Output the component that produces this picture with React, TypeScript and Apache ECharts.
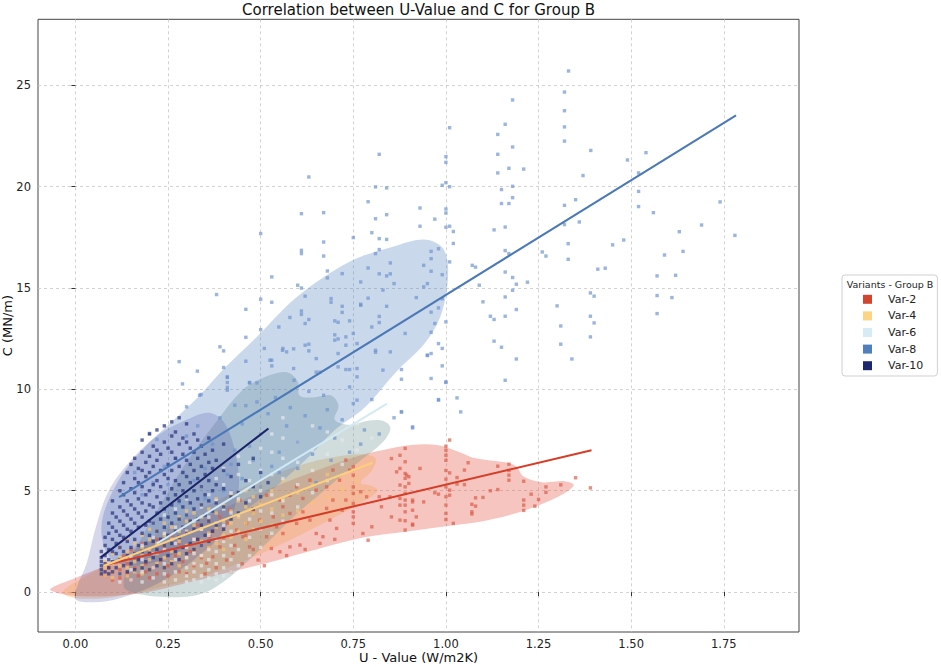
import React, { useEffect, useRef } from "react";
import * as echarts from "echarts";

const FONT = "DejaVu Sans";

const variantNames = ["Var-2", "Var-4", "Var-6", "Var-8", "Var-10"];
const legendColors = ["#d4452f", "#fdd384", "#d6ebf4", "#4f7fbf", "#1d2770"];
const lineColors = ["#d63c26", "#fdcf7c", "#d2eaf4", "#4a79b6", "#1a2367"];
const pointColors = ["rgba(217,90,70,0.85)", "rgba(248,196,112,0.9)", "rgba(228,232,235,0.9)", "rgba(108,146,204,0.85)", "rgba(38,48,122,0.88)"];
const blobColors = ["rgba(232,95,80,0.36)", "rgba(240,165,80,0.33)", "rgba(110,150,145,0.32)", "rgba(78,125,192,0.30)", "rgba(70,74,165,0.22)"];

// Regression lines (start, end)
const var2Fit = [[0.077, 1.32], [1.393, 7.0]];
const var4Fit = [[0.077, 1.3], [0.802, 6.38]];
const var6Fit = [[0.22, 2.4], [0.841, 9.3]];
const var8Fit = [[0.118, 4.68], [1.783, 23.52]];
const var10Fit = [[0.0685, 1.71], [0.521, 8.07]];

// Density regions (outline vertices in data units)
const var2Blob = [[-0.068, 0.15], [-0.04, -0.08], [0.0, -0.18], [0.08, -0.2], [0.18, -0.05], [0.3, 0.45], [0.42, 1.0], [0.52, 1.45], [0.65, 2.1], [0.78, 2.7], [0.9, 3.0], [1.0, 3.25], [1.1, 3.5], [1.2, 3.95], [1.28, 4.5], [1.33, 5.0], [1.345, 5.3], [1.32, 5.47], [1.26, 5.42], [1.21, 5.7], [1.19, 6.2], [1.16, 6.4], [1.08, 6.6], [1.03, 6.95], [0.98, 7.25], [0.9, 7.25], [0.84, 7.05], [0.78, 6.8], [0.68, 6.2], [0.55, 5.3], [0.42, 4.3], [0.3, 3.3], [0.18, 2.3], [0.08, 1.3], [0.0, 0.7]];
const var4Blob = [[-0.035, 0.02], [0.0, -0.3], [0.1, -0.25], [0.22, 0.2], [0.34, 0.75], [0.45, 1.5], [0.56, 2.4], [0.68, 3.5], [0.78, 4.5], [0.815, 5.0], [0.8, 5.25], [0.77, 5.4], [0.8, 6.0], [0.81, 6.6], [0.77, 6.8], [0.68, 6.6], [0.58, 6.1], [0.47, 5.3], [0.36, 4.3], [0.25, 3.2], [0.15, 2.1], [0.06, 1.1]];
const var6Blob = [[0.13, 0.3], [0.17, -0.1], [0.26, -0.25], [0.33, -0.15], [0.38, 0.26], [0.44, 1.1], [0.51, 2.3], [0.6, 3.9], [0.69, 5.3], [0.77, 6.5], [0.83, 7.4], [0.85, 8.1], [0.83, 8.45], [0.79, 8.45], [0.74, 8.25], [0.7, 8.5], [0.71, 9.2], [0.69, 9.7], [0.64, 9.6], [0.605, 9.7], [0.6, 10.4], [0.57, 10.85], [0.51, 10.6], [0.45, 9.95], [0.38, 8.4], [0.3, 6.4], [0.22, 4.0], [0.16, 2.0]];
const var8Blob = [[0.07, 3.2], [0.1, 1.6], [0.2, 1.4], [0.35, 2.8], [0.5, 4.6], [0.62, 6.5], [0.7, 8.0], [0.78, 9.1], [0.87, 10.95], [0.93, 12.0], [0.97, 13.0], [0.995, 14.2], [1.006, 16.0], [0.99, 17.0], [0.94, 17.4], [0.85, 17.0], [0.74, 16.3], [0.6, 14.6], [0.49, 12.6], [0.4, 11.0], [0.33, 9.6], [0.26, 8.4], [0.18, 7.0], [0.11, 5.3]];
const var10Blob = [[0.0, -0.35], [0.05, -0.5], [0.12, -0.3], [0.22, 0.4], [0.32, 1.6], [0.4, 3.0], [0.44, 5.0], [0.43, 7.0], [0.4, 8.4], [0.36, 8.85], [0.3, 8.5], [0.22, 7.7], [0.15, 6.5], [0.09, 5.0], [0.055, 3.2], [0.03, 1.4], [0.005, 0.3]];

// Scatter points
const var2Points = [
  [1.01, 7.5], [1.0, 7.2], [1.0, 7.0], [1.0, 6.75], [1.0, 6.5], [1.0, 6.0], [1.0, 5.57], [1.0, 5.19], [1.0, 4.7], [1.0, 4.29], [1.0, 3.88], [1.0, 3.58], [1.01, 5.88], [1.01, 5.03], [1.01, 4.78], [1.03, 5.65], [1.03, 5.33], [1.02, 3.39], [1.05, 6.02], [1.05, 5.3], [1.06, 6.38], [1.07, 4.33], [1.07, 3.96], [1.07, 3.85], [1.08, 4.65], [1.08, 4.24], [1.1, 4.67], [1.12, 5.0], [1.14, 5.06], [1.14, 6.21], [1.17, 6.31], [1.17, 6.0], [1.17, 5.77], [1.17, 5.52], [1.21, 5.47], [1.21, 4.54], [1.21, 4.29], [1.21, 4.03], [1.23, 4.83], [1.24, 4.24], [1.25, 4.57], [1.27, 5.19], [1.27, 4.92], [1.31, 5.29], [1.35, 5.64], [1.39, 5.14], [0.97, 4.9], [0.98, 4.83], [0.93, 6.1], [0.94, 4.45], [0.91, 4.45], [0.91, 4.04], [0.91, 3.35],
  [0.89, 7.09], [0.89, 6.43], [0.89, 5.85], [0.89, 5.61], [0.89, 5.19], [0.89, 4.87], [0.89, 4.54], [0.89, 4.29], [0.89, 3.96], [0.89, 3.52], [0.89, 3.06], [0.9, 5.69], [0.876, 6.75], [0.876, 6.1], [0.876, 5.28], [0.876, 4.62], [0.876, 4.29], [0.876, 3.55],
  [0.853, 6.59], [0.867, 5.93], [0.894, 5.77], [0.9, 5.36], [0.91, 4.54], [0.92, 3.71], [0.91, 3.3], [0.849, 4.7], [0.826, 4.21], [0.853, 3.71], [0.82, 4.7], [0.8, 3.22], [0.776, 2.89], [0.79, 2.56], [0.75, 6.18], [0.75, 5.77], [0.75, 5.19], [0.75, 4.87], [0.75, 4.37], [0.75, 3.96], [0.75, 3.71], [0.75, 3.39], [0.73, 4.54], [0.72, 4.04], [0.77, 4.95], [0.786, 4.7], [0.695, 4.54], [0.678, 4.13], [0.687, 3.55], [0.668, 2.73], [0.705, 3.14], [0.65, 2.89], [0.633, 3.55], [0.614, 3.96], [0.597, 3.39], [0.606, 2.32], [0.579, 2.23], [0.552, 1.99], [0.529, 2.15], [0.56, 2.89], [0.543, 3.22], [0.516, 2.73], [0.493, 1.58], [0.47, 2.23], [0.452, 2.73], [0.435, 3.06], [0.425, 1.91], [0.408, 1.58], [0.39, 2.23], [0.371, 1.74], [0.363, 2.73], [0.354, 1.42], [0.579, 3.88], [0.56, 4.21], [0.534, 3.71], [0.497, 3.55], [0.48, 3.96], [0.462, 3.39], [0.614, 4.62], [0.65, 5.03], [0.633, 5.52], [0.678, 5.19], [0.713, 5.52], [0.74, 6.02], [0.73, 6.51], [0.695, 6.02], [0.597, 5.19], [0.579, 4.78], [0.552, 4.54], [0.516, 4.78], [0.444, 4.54], [0.417, 4.04], [0.39, 3.71],
  [0.08, 0.8], [0.09, 1.2], [0.1, 0.6], [0.1, 1.0], [0.11, 1.5], [0.12, 0.7], [0.12, 1.1], [0.13, 1.8], [0.14, 0.9], [0.14, 1.4], [0.15, 0.6], [0.15, 2.1], [0.16, 1.2], [0.17, 0.8], [0.17, 1.7], [0.18, 2.4], [0.19, 1.0], [0.19, 1.4], [0.2, 0.7], [0.2, 1.9], [0.21, 1.2], [0.22, 2.6], [0.22, 0.9], [0.23, 1.6], [0.24, 2.2], [0.25, 0.8], [0.25, 1.3], [0.26, 2.8], [0.27, 1.8], [0.28, 1.0], [0.28, 2.4], [0.29, 1.5], [0.3, 3.0], [0.3, 0.9], [0.31, 2.0], [0.32, 1.3], [0.33, 2.6], [0.33, 3.3], [0.34, 1.7], [0.35, 0.9], [0.36, 2.2], [0.37, 3.0], [0.38, 1.2], [0.4, 2.6], [0.41, 3.4], [0.42, 1.0], [0.43, 2.3], [0.45, 1.4], [0.46, 2.8], [0.48, 2.1], [0.5, 3.1], [0.51, 1.3], [0.57, 1.8], [0.62, 2.1], [0.66, 2.4], [0.7, 2.6]
];

const var4Columns = [
  [0.08, [0.8, 1.2, 1.5]], [0.1, [0.7, 1.0, 1.4, 1.9]], [0.12, [0.9, 1.3, 1.7, 2.2]], [0.14, [0.8, 1.2, 1.6, 2.0, 2.6]],
  [0.16, [1.0, 1.5, 1.9, 2.4]], [0.18, [0.9, 1.3, 1.8, 2.2, 2.8]], [0.2, [1.1, 1.6, 2.1, 2.6, 3.1]], [0.22, [1.4, 1.9, 2.4, 3.0]],
  [0.24, [1.2, 1.7, 2.3, 2.8, 3.4]], [0.26, [1.5, 2.0, 2.6, 3.2]], [0.28, [1.3, 1.9, 2.5, 3.0, 3.7]], [0.3, [1.7, 2.3, 2.9, 3.5, 4.0]],
  [0.32, [2.0, 2.6, 3.3, 3.9]], [0.34, [1.8, 2.5, 3.1, 3.7, 4.3]], [0.36, [2.2, 2.9, 3.5, 4.1]], [0.38, [2.4, 3.2, 3.9, 4.6]],
  [0.4, [2.1, 2.8, 3.5, 4.3]], [0.42, [2.7, 3.4, 4.0, 4.8]], [0.44, [3.0, 3.7, 4.5]], [0.46, [2.6, 3.4, 4.2, 5.0]],
  [0.48, [3.1, 3.9, 4.7]], [0.5, [3.5, 4.3, 5.2]], [0.53, [3.3, 4.1, 5.0]], [0.56, [3.8, 4.6, 5.5]], [0.6, [4.0, 4.9]],
  [0.64, [4.4, 5.3]], [0.68, [4.7, 5.8]], [0.72, [5.1]], [0.76, [5.5]]
];

const var6Columns = [
  [0.12, [0.5, 0.9]], [0.15, [0.6, 1.1, 1.7]], [0.18, [0.5, 1.0, 1.6, 2.3]], [0.21, [0.7, 1.2, 1.9, 2.7, 3.4]],
  [0.24, [0.5, 0.9, 1.4, 2.1, 2.9, 3.8]], [0.27, [0.6, 1.0, 1.6, 2.4, 3.2, 4.1]], [0.3, [0.5, 0.8, 1.2, 1.7, 2.2, 3.0, 3.8, 4.6]],
  [0.32, [0.6, 1.0, 1.4, 1.9, 2.6, 3.5]], [0.34, [0.5, 0.8, 1.3, 1.8, 2.3, 3.1, 4.2, 5.2]], [0.36, [0.7, 1.1, 1.6, 2.1, 2.8, 3.7, 4.8]],
  [0.38, [0.6, 0.9, 1.4, 2.0, 2.6, 3.4, 4.5, 5.6]], [0.4, [0.8, 1.2, 1.8, 2.5, 3.3, 4.1, 5.3, 6.1]], [0.42, [1.0, 1.6, 2.3, 3.0, 3.9, 4.9]],
  [0.44, [1.3, 2.1, 2.9, 3.8, 4.6, 5.8, 6.7]], [0.47, [1.8, 2.7, 3.6, 4.5, 5.5, 6.4]], [0.5, [2.2, 3.1, 4.0, 5.0, 6.0, 7.1]],
  [0.53, [2.9, 3.9, 4.8, 5.8, 6.9, 7.8]], [0.56, [3.5, 4.5, 5.6, 6.6, 7.6, 8.6]], [0.6, [4.2, 5.3, 6.4, 7.4]],
  [0.64, [4.9, 6.0, 7.0, 8.2]], [0.68, [5.5, 6.8, 7.9]], [0.72, [6.3, 7.5]], [0.76, [7.0, 8.3]], [0.8, [7.6]]
];

const var8Points = [
  [0.381, 14.68], [0.46, 13.95], [0.5, 17.69], [0.5, 14.45], [0.53, 15.55], [0.53, 14.3], [0.61, 18.67], [0.61, 16.86], [0.61, 16.7], [0.63, 20.48], [0.6, 15.14], [0.61, 15.0], [0.62, 14.6], [0.61, 13.7], [0.67, 18.72], [0.67, 17.27], [0.67, 16.58], [0.68, 15.84], [0.68, 15.5], [0.69, 14.48], [0.69, 14.3], [0.72, 15.71], [0.72, 14.1], [0.72, 13.8], [0.74, 13.38], [0.75, 17.49], [0.77, 14.15], [0.77, 15.3], [0.79, 19.26], [0.8, 17.73], [0.81, 19.99], [0.81, 18.42], [0.81, 16.7], [0.79, 15.99], [0.79, 14.5], [0.82, 21.6], [0.82, 17.44], [0.82, 16.9], [0.82, 15.7], [0.82, 13.3], [0.84, 19.94], [0.84, 18.62], [0.84, 17.4], [0.84, 15.6], [0.84, 14.1], [0.85, 16.24], [0.85, 15.7], [0.86, 15.22], [0.83, 14.9],
  [1.331, 25.71], [1.32, 24.67], [1.32, 23.75], [1.32, 22.95], [1.32, 22.25], [1.391, 21.79], [1.37, 20.55], [1.18, 24.28], [1.16, 23.08], [1.14, 22.58], [1.18, 21.96], [1.14, 21.6], [1.17, 20.91], [1.21, 20.87], [1.14, 20.68], [1.18, 20.02], [1.15, 19.86], [1.18, 19.46], [1.15, 19.17], [1.17, 19.17], [1.16, 18.01], [1.13, 17.87],
  [1.01, 22.91], [1.0, 21.48], [1.0, 21.2], [0.99, 20.07], [1.0, 20.2], [1.01, 20.0], [0.93, 18.95], [0.93, 18.05], [0.97, 18.4], [1.0, 18.9], [1.0, 18.7], [1.0, 18.0], [1.01, 18.05], [1.02, 17.79], [1.02, 17.2], [1.01, 16.29], [0.98, 16.94], [0.96, 16.81], [0.96, 16.45], [0.94, 16.12], [0.96, 15.83], [0.99, 15.66], [0.95, 15.22], [0.94, 15.06], [0.92, 14.53], [0.99, 14.47], [0.98, 14.02], [0.96, 13.81], [1.0, 13.33], [0.97, 13.25], [0.89, 12.76], [0.96, 12.82], [0.98, 12.26], [0.99, 12.02], [0.96, 11.77], [0.95, 11.67],
  [1.071, 16.12], [1.08, 16.03], [1.09, 15.14], [1.1, 14.32], [1.12, 13.61], [1.13, 13.45], [1.13, 12.38], [1.15, 12.08], [1.16, 16.85], [1.17, 16.7], [1.16, 15.79], [1.18, 15.52], [1.19, 15.19], [1.22, 15.29], [1.18, 14.89], [1.16, 14.56], [1.19, 13.94], [1.16, 13.61], [1.19, 11.5], [1.26, 16.78], [1.27, 16.58], [1.32, 19.08], [1.32, 18.13], [1.35, 19.36], [1.36, 18.26], [1.33, 17.19], [1.33, 16.42], [1.3, 14.12], [1.31, 13.13], [1.31, 12.23], [1.34, 11.5], [1.39, 14.76], [1.4, 14.6], [1.39, 13.61], [1.4, 13.28], [1.39, 12.59], [1.41, 15.93], [1.43, 15.98], [1.45, 17.13], [1.48, 17.37], [1.49, 21.32], [1.52, 20.68], [1.54, 21.68], [1.52, 19.77], [1.52, 19.02], [1.56, 18.72], [1.63, 17.78], [1.69, 18.11], [1.74, 19.25], [1.78, 17.6], [1.59, 16.63], [1.64, 16.81], [1.57, 15.6], [1.62, 15.63], [1.57, 14.63], [1.61, 14.53], [1.57, 13.74],
  [0.99, 11.16], [0.96, 10.54], [1.0, 10.34], [0.88, 10.98], [0.88, 10.5], [0.98, 9.5], [1.03, 9.58], [1.04, 8.89], [0.88, 8.89], [0.91, 8.1], [1.16, 10.45],
  [0.28, 11.37], [0.289, 10.27], [0.329, 10.9], [0.339, 9.75], [0.39, 12.1], [0.4, 11.9], [0.4, 11.08], [0.41, 10.59], [0.41, 10.34], [0.41, 10.1], [0.46, 11.39], [0.47, 10.34], [0.49, 10.32], [0.51, 12.02], [0.53, 11.44], [0.53, 11.16], [0.559, 11.93], [0.57, 11.85], [0.589, 12.0], [0.589, 11.03], [0.63, 12.23], [0.63, 11.9], [0.65, 11.52], [0.65, 10.85], [0.66, 10.85], [0.709, 11.77], [0.709, 11.11], [0.73, 12.18], [0.73, 10.98], [0.74, 10.98], [0.76, 12.26], [0.76, 11.03], [0.81, 11.93], [0.81, 11.83], [0.83, 10.95],
  [0.549, 13.08], [0.579, 13.55], [0.61, 13.87], [0.62, 13.25], [0.63, 13.45], [0.7, 13.38], [0.709, 13.31], [0.7, 12.69], [0.709, 12.49], [0.73, 12.59], [0.75, 12.76], [0.77, 14.2], [0.8, 13.08], [0.82, 13.6], [0.46, 12.57], [0.5, 12.95],
  [0.2, 7.83], [0.22, 7.53], [0.3, 9.14], [0.335, 9.71], [0.41, 10.62], [0.41, 9.96], [0.43, 9.22], [0.47, 10.32], [0.49, 9.38], [0.525, 11.44], [0.56, 12.02], [0.59, 10.45], [0.62, 12.18], [0.67, 9.71], [0.7, 12.43], [0.74, 10.12], [0.76, 9.47], [0.76, 10.62], [0.85, 11.85], [0.88, 8.89], [0.91, 8.15], [0.95, 11.69], [0.98, 9.47], [1.0, 10.37],
  [0.25, 5.3], [0.27, 6.6], [0.3, 7.7], [0.33, 8.2], [0.35, 6.1], [0.37, 7.3], [0.39, 8.6], [0.41, 5.8], [0.43, 7.0], [0.45, 8.3], [0.46, 9.2], [0.48, 6.5], [0.5, 7.8], [0.52, 8.8], [0.54, 9.6], [0.55, 6.9], [0.57, 8.2], [0.58, 9.1], [0.6, 7.4], [0.62, 8.7], [0.63, 9.9], [0.64, 6.8], [0.66, 8.1], [0.68, 9.0], [0.7, 7.6], [0.72, 8.5], [0.75, 9.3], [0.78, 8.0], [0.8, 9.5], [0.35, 4.6], [0.4, 5.0], [0.45, 5.6], [0.5, 5.2], [0.55, 5.9], [0.6, 6.1], [0.24, 6.2], [0.21, 5.4], [0.18, 4.8], [0.16, 5.9], [0.28, 4.4], [0.32, 5.5], [0.42, 6.3], [0.47, 7.2], [0.53, 6.2], [0.65, 5.4], [0.69, 6.5], [0.74, 6.9], [0.77, 7.3], [0.82, 7.8], [0.86, 8.6]
];

const var10Columns = [
  [0.07, [0.9, 1.1, 1.3, 1.5, 1.7, 2.0]], [0.08, [1.0, 1.4, 1.8, 2.3, 2.7]], [0.09, [0.9, 1.2, 1.6, 2.1, 2.9, 3.4]],
  [0.1, [1.0, 1.5, 2.0, 2.6, 3.2, 3.9, 4.5]], [0.11, [1.2, 1.9, 2.4, 3.0, 3.7]], [0.12, [0.9, 1.6, 2.2, 2.8, 3.5, 4.2, 5.0]],
  [0.13, [1.3, 2.0, 2.7, 3.3, 4.0, 4.8, 5.4]], [0.14, [1.0, 1.8, 2.5, 3.1, 3.8, 4.5, 5.9]], [0.15, [1.4, 2.2, 3.0, 3.6, 4.3, 5.1, 6.3]],
  [0.16, [1.1, 1.9, 2.6, 3.4, 4.1, 4.9, 5.6, 6.6]], [0.17, [1.6, 2.3, 3.2, 3.9, 4.6, 5.4, 6.1]], [0.18, [1.2, 2.0, 2.9, 3.7, 4.4, 5.2, 6.0, 6.9, 7.5]],
  [0.19, [1.5, 2.4, 3.3, 4.0, 4.8, 5.7, 6.4]], [0.2, [1.1, 1.9, 2.8, 3.5, 4.3, 5.0, 5.9, 6.7, 7.8]], [0.21, [1.7, 2.5, 3.4, 4.2, 5.3, 6.2, 7.2]],
  [0.22, [1.3, 2.1, 3.0, 3.9, 4.7, 5.5, 6.5, 7.0, 8.0]], [0.23, [1.6, 2.6, 3.6, 4.4, 5.2, 6.0, 6.8]], [0.24, [1.2, 2.3, 3.2, 4.1, 4.9, 5.8, 7.4, 8.2]],
  [0.25, [1.8, 2.8, 3.7, 4.6, 5.6, 6.3, 7.1]], [0.26, [1.4, 2.4, 3.4, 4.3, 5.1, 6.0, 6.9, 7.7, 8.4]], [0.27, [2.0, 3.0, 3.9, 4.8, 5.5, 6.6, 7.9]],
  [0.28, [1.6, 2.7, 3.6, 4.5, 5.3, 6.2, 7.3, 8.6]], [0.29, [2.2, 3.2, 4.2, 5.0, 5.9, 6.8, 7.6]], [0.3, [1.9, 2.9, 3.8, 4.7, 5.7, 6.5, 7.4, 8.3]],
  [0.31, [2.4, 3.5, 4.4, 5.4, 6.3, 7.1]], [0.32, [2.1, 3.1, 4.1, 5.0, 6.0, 6.9, 7.8]], [0.33, [2.6, 3.6, 4.6, 5.6, 6.6, 7.5]],
  [0.34, [2.3, 3.3, 4.3, 5.2, 6.2, 7.2]], [0.35, [2.8, 3.8, 4.8, 5.8, 6.8]], [0.36, [2.5, 3.5, 4.5, 5.5, 6.4, 7.6]],
  [0.37, [3.0, 4.0, 5.0, 6.1, 7.0]], [0.38, [3.3, 4.4, 5.3, 6.5]], [0.4, [3.1, 4.2, 5.1, 6.0, 7.3]], [0.42, [3.6, 4.7, 5.7]],
  [0.44, [3.9, 4.9, 6.3]], [0.46, [4.4, 5.5]], [0.48, [4.1, 5.2, 6.6]], [0.5, [4.7, 5.9]], [0.52, [5.4]]
];

const fromColumns = (cols) => cols.flatMap(([x, ys]) => ys.map((y) => [x, y]));

const pointSets = [var2Points, fromColumns(var4Columns), fromColumns(var6Columns), var8Points, fromColumns(var10Columns)];
const blobs = [var2Blob, var4Blob, var6Blob, var8Blob, var10Blob];
const fits = [var2Fit, var4Fit, var6Fit, var8Fit, var10Fit];

export default function App() {
  const ref = useRef(null);
  useEffect(() => {
    const chart = echarts.init(ref.current, null, { renderer: "svg" });
    const series = [];
    variantNames.forEach((name, i) => {
      const blob = blobs[i];
      series.push({
        type: "custom",
        name: name + " density",
        silent: true,
        data: [blob[0]],
        renderItem: (params, api) => {
          const pts = blob.map((p) => api.coord(p));
          return { type: "polygon", shape: { points: pts, smooth: 0.35 }, style: { fill: blobColors[i] } };
        },
      });
      series.push({
        type: "scatter",
        name,
        data: pointSets[i],
        symbol: "rect",
        symbolSize: 3.4,
        itemStyle: { color: pointColors[i] },
        silent: true,
      });
    });
    variantNames.forEach((name, i) => {
      series.push({
        type: "line",
        name: name + " fit",
        data: fits[i],
        symbol: "none",
        z: 5,
        silent: true,
        lineStyle: { color: lineColors[i], width: 2 },
      });
    });

    const split = { show: true, showMinLine: false, showMaxLine: false, lineStyle: { color: "#c6c6c6", type: [3, 3], width: 0.8 } };

    chart.setOption({
      animation: false,
      backgroundColor: "#ffffff",
      textStyle: { fontFamily: FONT },
      grid: { left: 38, right: 142, top: 19.3, bottom: 35, show: true, borderColor: "#444", borderWidth: 1, containLabel: false, outerBoundsMode: "none" },
      xAxis: {
        type: "value",
        min: -0.101,
        max: 1.953,
        minInterval: 0.25,
        maxInterval: 0.25,
        name: "U - Value (W/m2K)",
        nameLocation: "middle",
        nameGap: 19,
        nameMoveOverlap: false,
        nameTextStyle: { fontFamily: FONT, fontSize: 13, color: "#111" },
        axisLine: { show: false },
        axisTick: { show: true, length: 4, lineStyle: { color: "#333" } },
        axisLabel: { fontFamily: FONT, fontSize: 11.5, color: "#222", margin: 6, showMinLabel: false, showMaxLabel: false, formatter: (v) => v.toFixed(2) },
        splitLine: split,
      },
      yAxis: {
        type: "value",
        min: -1.97,
        max: 28.26,
        minInterval: 5,
        maxInterval: 5,
        name: "C (MN/m)",
        nameLocation: "middle",
        nameGap: 24,
        nameMoveOverlap: false,
        nameTextStyle: { fontFamily: FONT, fontSize: 13, color: "#111" },
        axisLine: { show: false },
        axisTick: { show: true, length: 4, lineStyle: { color: "#333" } },
        axisLabel: { fontFamily: FONT, fontSize: 11.5, color: "#222", margin: 7, showMinLabel: false, showMaxLabel: false, formatter: (v) => String(v) },
        splitLine: split,
      },
      legend: {
        data: variantNames.map((n, i) => ({ name: n, icon: "rect", itemStyle: { color: legendColors[i], opacity: 1 } })),
        orient: "vertical",
        left: 842,
        top: 275,
        itemWidth: 9,
        itemHeight: 9,
        itemGap: 4.6,
        padding: [18.3, 9.4, 4.3, 21],
        borderColor: "#d0d0d0",
        borderWidth: 1,
        borderRadius: 3,
        selectedMode: false,
        textStyle: { fontFamily: FONT, fontSize: 11, color: "#222", lineHeight: 12, width: 40, padding: [0, 0, 0, 11] },
      },
      graphic: [
        {
          type: "text",
          x: 418.5,
          y: 10,
          style: { text: "Correlation between U-Value and C for Group B", fontFamily: FONT, fontSize: 15, fill: "#111", textAlign: "center", textVerticalAlign: "middle" },
        },
        {
          type: "text",
          x: 890,
          y: 284.5,
          style: { text: "Variants - Group B", fontFamily: FONT, fontSize: 9.5, fill: "#222", textAlign: "center", textVerticalAlign: "middle" },
        },
      ],
      series,
    });
    return () => chart.dispose();
  }, []);
  return <div ref={ref} style={{ position: "fixed", left: 0, top: 0, width: 941, height: 667 }} />;
}
